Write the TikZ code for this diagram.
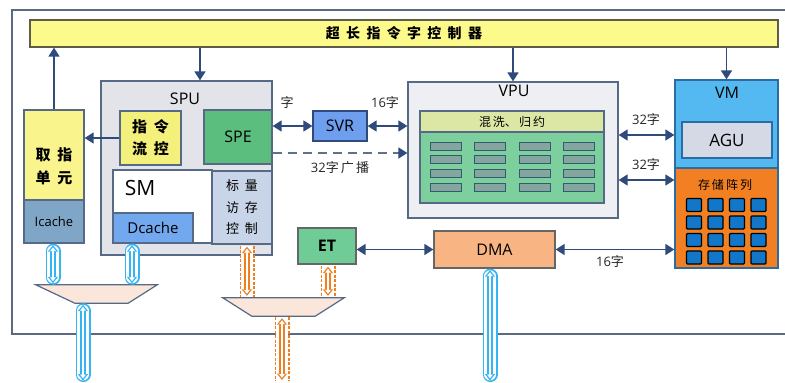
\documentclass[tikz,border=0pt]{standalone}
\usepackage{fontspec}
\setmainfont{Open Sans}
\newfontfamily\cjk{Noto Sans CJK SC}
\usetikzlibrary{arrows.meta,calc}
\definecolor{navy}{HTML}{2F4B7C}
\definecolor{frameC}{HTML}{5A6A80}
\definecolor{barY}{HTML}{FBFA8A}
\definecolor{barB}{HTML}{5C5C48}
\definecolor{spuF}{HTML}{E2E4EA}
\definecolor{boxB}{HTML}{566A88}
\definecolor{fetchY}{HTML}{F9F48C}
\definecolor{icacheF}{HTML}{7FA6C6}
\definecolor{ifcY}{HTML}{F4F07C}
\definecolor{speG}{HTML}{5BBE7F}
\definecolor{dcacheF}{HTML}{72A8EE}
\definecolor{scalF}{HTML}{C8D4E7}
\definecolor{svrF}{HTML}{6E9EEE}
\definecolor{vpuF}{HTML}{EEEFF3}
\definecolor{shufF}{HTML}{DCE7A6}
\definecolor{gridG}{HTML}{7DCF9E}
\definecolor{cellF}{HTML}{85A6A0}
\definecolor{cellB}{HTML}{2F5D6C}
\definecolor{vmF}{HTML}{55B9F1}
\definecolor{vmB}{HTML}{2B6CA4}
\definecolor{aguF}{HTML}{D5D9E5}
\definecolor{storeF}{HTML}{F28022}
\definecolor{sqF}{HTML}{1277C8}
\definecolor{dmaF}{HTML}{F8B483}
\definecolor{etF}{HTML}{6FCC96}
\definecolor{muxF}{HTML}{FBE6DB}
\definecolor{cyanA}{HTML}{35B4F2}
\definecolor{orangeA}{HTML}{EE8022}
\definecolor{dashC}{HTML}{5D7290}
\newcommand{\gap}{\hspace{0.45em}}
\newcommand{\hollowC}[2]{%
  \draw[cyanA, line width=15pt, line cap=round, shorten <=7.5pt, shorten >=7.5pt] #1 -- #2;
  \draw[white, line width=11.8pt, line cap=round, shorten <=7.5pt, shorten >=7.5pt] #1 -- #2;
  \draw[cyanA, line width=5.5pt, shorten <=1.5pt, shorten >=1.5pt, {Triangle[length=6.5pt,width=10pt]}-{Triangle[length=6.5pt,width=10pt]}] #1 -- #2;
  \draw[white, line width=2.6pt, shorten <=3.6pt, shorten >=3.6pt, {Triangle[length=3.8pt,width=5.6pt]}-{Triangle[length=3.8pt,width=5.6pt]}] #1 -- #2;}
\newcommand{\hollowO}[2]{%
  \draw[orangeA, line width=15pt, dash pattern=on 3pt off 1.5pt, shorten <=1pt, shorten >=1pt] #1 -- #2;
  \draw[white, line width=12pt, shorten <=1pt, shorten >=1pt] #1 -- #2;
  \draw[orangeA, line width=5.5pt, shorten <=2pt, shorten >=2pt, {Triangle[length=6.5pt,width=10pt]}-{Triangle[length=6.5pt,width=10pt]}] #1 -- #2;
  \draw[white, line width=2.6pt, shorten <=4.1pt, shorten >=4.1pt, {Triangle[length=3.8pt,width=5.6pt]}-{Triangle[length=3.8pt,width=5.6pt]}] #1 -- #2;}
\tikzset{
 box/.style={draw=boxB, line width=1.3pt, rectangle, inner sep=0pt, align=center},
 arr/.style={draw=navy, line width=1.7pt, -{Triangle[length=9pt,width=11pt]}},
 darr/.style={draw=navy, line width=1.7pt, {Triangle[length=9pt,width=11pt]}-{Triangle[length=9pt,width=11pt]}},
 lbl/.style={inner sep=0pt, font=\fontsize{13}{15}\selectfont, text=black!85},
 mux/.style={draw=boxB, line width=1.2pt, fill=muxF},
 ghost/.style={inner sep=0pt, minimum width=121pt, minimum height=18pt},
 cell/.style={draw=cellB, fill=cellF, line width=1pt, minimum width=31pt, minimum height=8pt, inner sep=0pt},
 sq/.style={draw=black, fill=sqF, line width=1.2pt, minimum width=15pt, minimum height=13pt, inner sep=0pt, rounded corners=1pt},
 ttl/.style={inner sep=0pt, font=\fontsize{16}{18}\selectfont}
}
\begin{document}
\begin{tikzpicture}[x=1pt,y=-1pt]
\useasboundingbox (0,0) rectangle (785,383);
\fill[white] (0,0) rectangle (785,383);
% outer frame
\draw[frameC, line width=1.4pt] (785,10) -- (12,10) -- (12,334) -- (785,334);
% top bar
\node[box, fill=barY, draw=barB, minimum width=748pt, minimum height=27pt,
      font=\cjk\bfseries\fontsize{14}{16}\selectfont] (bar) at (404,33.5)
      {超\gap 长\gap 指\gap 令\gap 字\gap 控\gap 制\gap 器};
% fetch unit
\node[box, fill=fetchY, minimum width=60pt, minimum height=133pt] (fetch) at (54,176.5) {};
\node[box, fill=icacheF, minimum width=60pt, minimum height=43pt, font=\fontsize{13}{15}\selectfont] (icache) at (54,221.5) {Icache};
\node[inner sep=0pt, align=center, font=\cjk\bfseries\fontsize{15}{23}\selectfont] (fetchtxt) at (54,166) {取\gap 指\\单\gap 元};
% SPU
\node[box, fill=spuF, minimum width=171pt, minimum height=174pt] (SPU) at (186.5,168) {};
\node[ttl] (spulbl) at (185,99) {SPU};
\node[box, fill=ifcY, minimum width=61pt, minimum height=54pt, font=\cjk\bfseries\fontsize{15}{22}\selectfont] (ifc) at (150.5,138) {指\gap 令\\流\gap 控};
\node[box, fill=speG, minimum width=68pt, minimum height=54pt, font=\fontsize{16}{18}\selectfont] (SPE) at (238,137) {SPE};
\node[box, fill=white, minimum width=99pt, minimum height=73pt] (SM) at (162.5,206.5) {};
\node[inner sep=0pt, font=\fontsize{21}{23}\selectfont] (smlbl) at (140,188) {SM};
\node[box, fill=dcacheF, minimum width=80pt, minimum height=30pt, font=\fontsize{15}{17}\selectfont] (dcache) at (153,228) {Dcache};
\node[box, fill=scalF, minimum width=60pt, minimum height=73pt, font=\cjk\fontsize{13}{21.5}\selectfont] (scalar) at (242,207.5) {标\gap 量\\访\gap 存\\控\gap 制};
% SVR
\node[box, fill=svrF, draw=navy, minimum width=54pt, minimum height=30pt, font=\fontsize{16}{18}\selectfont] (SVR) at (340,126) {SVR};
% VPU
\node[box, fill=vpuF, minimum width=210pt, minimum height=136pt] (VPU) at (513,150) {};
\node[ttl] (vpulbl) at (514,91) {VPU};
\node[box, fill=shufF, minimum width=184pt, minimum height=21pt, font=\cjk\fontsize{12}{14}\selectfont] (shuf) at (512,121.5) {混\,洗、\,归\,约};
\node[box, fill=gridG, minimum width=184pt, minimum height=71pt] (vgrid) at (512,167.5) {};
\foreach \i in {0,...,3} \foreach \j in {0,...,3}
  \node[cell] (c\i\j) at (445.5+44.5*\i, 146+13.8*\j) {};
% VM
\node[box, fill=vmF, draw=vmB, minimum width=103pt, minimum height=188pt] (VM) at (726.5,174) {};
\node[ttl] (vmlbl) at (727,93) {VM};
\node[box, fill=aguF, draw=vmB, minimum width=90pt, minimum height=36pt, font=\fontsize{17}{19}\selectfont] (AGU) at (727,140) {AGU};
\node[box, fill=storeF, draw=vmB, minimum width=103pt, minimum height=100pt] (store) at (726.5,218) {};
\node[inner sep=0pt, font=\cjk\fontsize{12}{14}\selectfont] (storelbl) at (725,185) {存\,储\,阵\,列};
\foreach \i in {0,...,3} \foreach \j in {0,...,3}
  \node[sq] (s\i\j) at (694+21.5*\i, 205+17.5*\j) {};
% DMA, ET
\node[box, fill=dmaF, draw=black!60, minimum width=121pt, minimum height=37pt, font=\fontsize{16}{18}\selectfont] (DMA) at (494.5,249.5) {DMA};
\node[box, fill=etF, draw=black!60, minimum width=58pt, minimum height=36pt, font=\bfseries\fontsize{16}{18}\selectfont] (ET) at (327,246) {ET};
% muxes
\node[ghost] (lmux) at (96.5,294) {};
\draw[mux] (lmux.north west) -- (lmux.north east) -- ([xshift=-29pt]lmux.south east) -- ([xshift=39pt]lmux.south west) -- cycle;
\node[ghost] (rmux) at (283.5,307) {};
\draw[mux] (rmux.north west) -- (rmux.north east) -- ([xshift=-29pt]rmux.south east) -- ([xshift=29pt]rmux.south west) -- cycle;
\coordinate (lout) at (83,382);
\coordinate (rout) at (282,382);
\coordinate (dout) at (490,382);
% control arrows
\draw[arr] (fetch.north) -- (fetch.north |- bar.south);
\draw[arr] ([xshift=13.5pt]SPU.north |- bar.south) -- ([xshift=13.5pt]SPU.north);
\draw[arr] (bar.south -| VPU.north) -- (VPU.north);
\draw[arr] (bar.south -| VM.north) -- (VM.north);
\draw[arr] (ifc.west) -- (ifc.west -| fetch.east);
\draw[darr] (SVR.west -| SPE.east) -- (SVR.west);
\draw[darr] (SVR.east) -- (SVR.east -| VPU.west);
\draw[dashC, line width=1.8pt, dash pattern=on 9pt off 6pt, -{Triangle[length=9pt,width=11pt,color=navy]}] ([yshift=-16pt]SPE.east) -- ([yshift=-16pt]SPE.east -| VPU.west);
\draw[darr] ([yshift=5pt]AGU.west -| VPU.east) -- ([yshift=5pt]AGU.west -| VM.west);
\draw[darr] ([yshift=38pt]store.west -| VPU.east) -- ([yshift=38pt]store.west);
\draw[darr] (DMA.east) -- (DMA.east -| store.west);
\draw[darr] (DMA.west -| ET.east) -- (DMA.west);
% labels
\node[lbl] (l1) at (287,103) {\cjk 字};
\node[lbl] (l2) at (385,103) {16{\cjk 字}};
\node[lbl] (l3) at (340,168) {32{\cjk 字\,广\,播}};
\node[lbl] (l4) at (646,120) {32{\cjk 字}};
\node[lbl] (l5) at (646,165) {32{\cjk 字}};
\node[lbl] (l6) at (610,262) {16{\cjk 字}};
% data paths
\hollowC{([xshift=-1pt]icache.south)}{([xshift=-1pt]icache.south |- lmux.north)}
\hollowC{([xshift=-21pt]dcache.south)}{([xshift=-21pt]dcache.south |- lmux.north)}
\hollowC{([xshift=-13.5pt]lmux.south)}{(lout)}
\hollowO{([xshift=5pt]scalar.south)}{([xshift=5pt]scalar.south |- rmux.north)}
\hollowO{([xshift=1pt]ET.south)}{([xshift=1pt]ET.south |- rmux.north)}
\hollowO{([xshift=-1.5pt]rmux.south)}{(rout)}
\hollowC{([xshift=-4.5pt]DMA.south)}{(dout)}
\end{tikzpicture}
\end{document}
